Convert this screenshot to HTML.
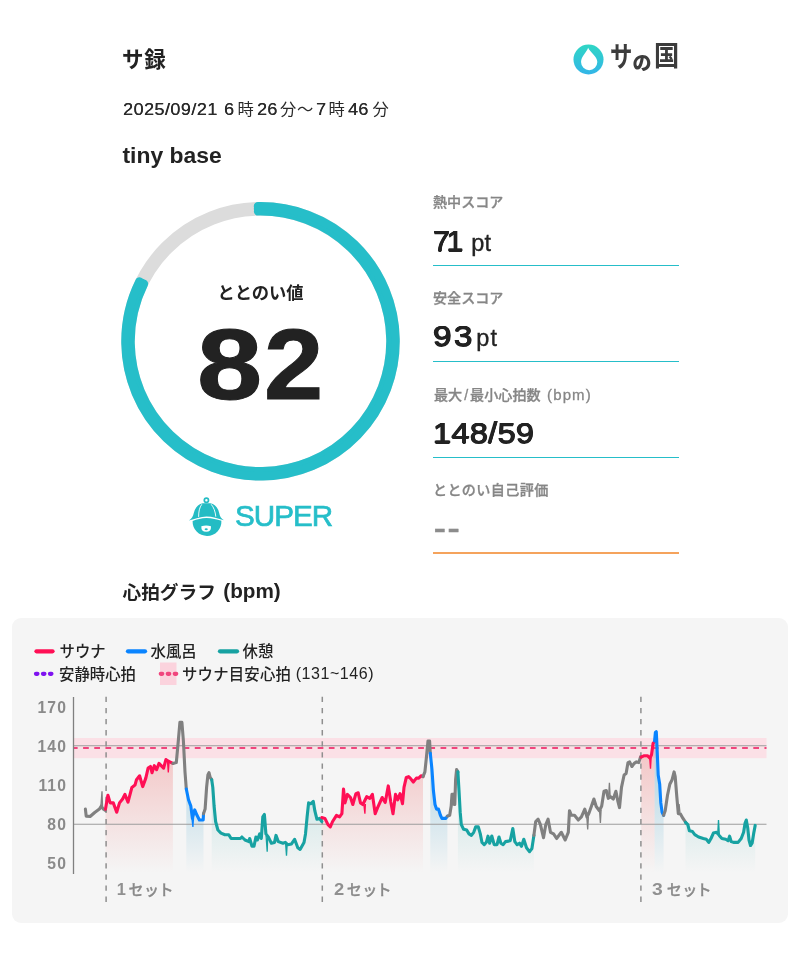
<!DOCTYPE html>
<html lang="ja">
<head>
<meta charset="utf-8">
<title>サ録</title>
<style>
html,body{margin:0;padding:0;background:#fff;}
body{width:800px;height:969px;position:relative;overflow:hidden;font-family:"Liberation Sans","Noto Sans CJK JP",sans-serif;color:#222;}
.abs{position:absolute;white-space:nowrap;line-height:1;}
.h1{left:122px;top:50px;font-size:21.5px;font-weight:700;letter-spacing:.8px;}
.date{top:100.5px;font-size:16.3px;color:#2a2a2a;letter-spacing:.9px;}
.date span{display:inline-block;white-space:pre;}
.date .d{letter-spacing:.15px;transform:scaleX(1.1);transform-origin:0 0;text-shadow:.3px 0 0 #2a2a2a;}
.date .l{letter-spacing:.45px;}
.place{left:122.5px;top:144px;font-size:22.9px;font-weight:700;}
.logo{left:573.3px;top:44.4px;}
.logotxt{font-weight:900;color:#3c3c3c;font-family:"Liberation Sans","Noto Sans CJK JP",sans-serif;}
.logotxt span{display:inline-block;vertical-align:top;position:relative;transform-origin:0 0;line-height:1;}
.ring{left:110px;top:190px;}
.tval{left:160.5px;width:200px;text-align:center;top:284.5px;font-size:17.3px;font-weight:700;}
.big{font-size:100.5px;font-weight:700;color:#222;-webkit-text-stroke:1px #222;}
.big span{display:inline-block;transform-origin:0 0;}
.super{left:235.2px;top:500px;font-size:30.4px;color:#26bec9;-webkit-text-stroke:.7px #26bec9;letter-spacing:-1px;transform:scaleX(.975);transform-origin:0 0;}
.hat{left:186px;top:494px;}
.lbl{left:433px;font-size:14.1px;color:#868686;font-weight:500;-webkit-text-stroke:.3px #868686;font-family:"Liberation Sans","Noto Sans CJK JP",sans-serif;}
.val{left:433px;font-size:30.4px;color:#222;font-weight:400;text-shadow:.6px 0 #222,-.6px 0 #222,0 .5px #222,0 -.5px #222;}
.val small{display:inline-block;position:relative;font-weight:400;font-size:23.5px;text-shadow:none;-webkit-text-stroke:.35px #222;top:0px;letter-spacing:.3px}
.ul{position:absolute;left:433px;width:246px;height:1.6px;background:#26bec9;}
.gt{font-weight:700;}
.gt span,.lg span{display:inline-block;vertical-align:top;position:relative;line-height:1;white-space:pre;}
.card{position:absolute;left:12px;top:618px;width:776px;height:305px;border-radius:9px;background:#f5f5f5;}
.chart{position:absolute;left:0;top:0;}
.lg{font-size:15.4px;color:#222;font-weight:500;}
.yl{left:20px;width:47px;text-align:right;font-size:15.7px;color:#8a8a8a;font-weight:700;letter-spacing:1.1px;}
.sl{font-size:15px;color:#8a8a8a;font-weight:500;letter-spacing:.5px;-webkit-text-stroke:.3px #8a8a8a;}
.sl b{display:inline-block;font-weight:700;font-size:16.4px;transform-origin:0 0;-webkit-text-stroke:0;color:#909090;letter-spacing:0;}
.sl i{font-style:normal;margin-left:-1.1px;}
</style>
</head>
<body>
<div class="abs h1">サ録</div>
<div class="abs date" style="left:122.5px"><span class="d l" style="width:101.5px">2025/09/21 </span><span class="d" style="width:13.5px">6</span><span class="" style="width:19.5px">時</span><span class="d" style="width:23.0px">26</span><span class="" style="width:17.0px">分</span><span class="" style="width:19.0px">〜</span><span class="d" style="width:12.5px">7</span><span class="" style="width:19.1px">時</span><span class="d" style="width:24.9px">46</span><span class="" style="">分</span></div>
<div class="abs place">tiny base</div>

<svg class="abs logo" width="31" height="31" viewBox="0 0 32 32">
<defs><linearGradient id="lgd" x1="0" y1="0" x2="0" y2="1"><stop offset="0" stop-color="#2fd6c4"/><stop offset="1" stop-color="#33b5e8"/></linearGradient></defs>
<circle cx="16" cy="16" r="15.5" fill="url(#lgd)"/>
<path d="M15.6 3.9 C17.6 8.6 25.1 12.6 25.1 18.6 A8.4 8.4 0 0 1 8.3 18.6 C8.3 12.6 14.2 8.6 15.6 3.9Z" fill="#fff"/>
</svg>
<div class="abs logotxt" style="left:610px;top:43px;font-size:28px"><span style="width:22.5px;top:1px;font-weight:700;transform:scaleX(.8)">サ</span><span style="width:21px;top:10.5px;font-size:19px">の</span><span style="font-weight:700;transform:scaleX(.9)">国</span></div>

<svg class="abs ring" width="300" height="300" viewBox="0 0 300 300">
<circle cx="150.5" cy="151.3" r="132.5" fill="none" stroke="#dcdcdc" stroke-width="13.5"/>
<g fill="none" stroke="#26bec9" stroke-width="8.5" stroke-linecap="round" stroke-dasharray="297.3 360" transform="rotate(-91.05 150.5 151.3)"><circle cx="150.5" cy="151.3" r="130" pathLength="360"/><circle cx="150.5" cy="151.3" r="132.5" pathLength="360"/><circle cx="150.5" cy="151.3" r="135" pathLength="360"/></g>
</svg>
<div class="abs tval">ととのい値</div>
<div class="abs big" style="left:197.3px;top:314px"><span style="width:66.7px;transform:scaleX(1.167)">8</span><span style="transform:scaleX(1.06)">2</span></div>

<svg class="abs hat" width="42" height="46" viewBox="0 0 42 46">
<circle cx="20.4" cy="6.3" r="2.1" fill="none" stroke="#24bcc4" stroke-width="1.7"/>
<path d="M2.9 26.6 C9 25 14.5 22.6 20.5 22.6 C26.5 22.6 32 24.8 37.9 26.3 C35 24.6 33.8 22 33.2 19 C32 13.5 28.8 10 24.3 9.2 L16.7 9.2 C12.2 10 9.2 13.5 7.8 19 C7.2 22 5.8 24.8 2.9 26.6Z" fill="#24bcc4"/>
<path d="M15.8 10.3 C13.5 13.5 12.6 17.5 12.6 22.9 M25.2 10.3 C27.8 13.5 29.3 17.5 29.8 22.7" fill="none" stroke="#fff" stroke-width="1" opacity=".9"/>
<path d="M6.62 26.9 C11 25.6 15.5 24.1 20.5 24.1 C26 24.1 31 25.6 35.38 26.7 A14.4 14.4 0 1 1 6.62 26.9Z" fill="#24bcc4"/>
<path d="M15.3 32.2 Q20.2 30.6 25 32.2 Q25.3 37.8 20.2 37.8 Q15 37.8 15.3 32.2Z" fill="#fff"/>
<ellipse cx="20.2" cy="35.3" rx="1.6" ry="1" fill="#24bcc4"/>
</svg>
<div class="abs super">SUPER</div>

<div class="abs lbl" style="top:195px">熱中スコア</div>
<div class="abs val" style="top:225px">7<span style="margin-left:-3.4px">1</span> <small style="margin-left:-.65px">pt</small></div>
<div class="ul" style="top:264.5px"></div>
<div class="abs lbl" style="top:291px">安全スコア</div>
<div class="abs val" style="top:320.3px;letter-spacing:2px"><span style="display:inline-block;transform:scaleX(1.1);transform-origin:0 0">93</span> <small style="margin-left:-5.05px;letter-spacing:1.1px">pt</small></div>
<div class="ul" style="top:360.8px"></div>
<div class="abs lbl" style="top:387px;left:434px">最大<span style="margin:0 2px">/</span>最小心拍数 <span style="margin-left:2.6px;font-size:15px;letter-spacing:1.1px">(bpm)</span></div>
<div class="abs val" style="top:417.3px;left:432.5px;letter-spacing:.3px;transform:scaleX(1.07);transform-origin:0 0">148/59</div>
<div class="ul" style="top:456.5px"></div>
<div class="abs lbl" style="top:483px;letter-spacing:.4px">ととのい自己評価</div>
<div class="abs val" style="top:508.5px;left:433.5px;color:#8c8c8c;text-shadow:none;-webkit-text-stroke:.4px #8c8c8c;font-size:38px;letter-spacing:1.2px">--</div>
<div class="ul" style="top:551.8px;height:2px;background:#f5a35c"></div>

<div class="abs gt" style="left:122.5px;top:580.7px;font-size:20.7px"><span style="width:100.8px;top:3px;font-size:18.7px">心拍グラフ </span><span>(bpm)</span></div>
<div class="card"></div>
<svg class="chart" width="800" height="969" viewBox="0 0 800 969">
<defs>
<linearGradient id="fr" gradientUnits="userSpaceOnUse" x1="0" y1="700" x2="0" y2="873"><stop offset="0" stop-color="#ee3434" stop-opacity=".35"/><stop offset="1" stop-color="#ee3838" stop-opacity="0"/></linearGradient>
<linearGradient id="fb" gradientUnits="userSpaceOnUse" x1="0" y1="700" x2="0" y2="873"><stop offset="0" stop-color="#2a98c4" stop-opacity=".50"/><stop offset="1" stop-color="#2a98c4" stop-opacity="0"/></linearGradient>
<linearGradient id="ft" gradientUnits="userSpaceOnUse" x1="0" y1="700" x2="0" y2="873"><stop offset="0" stop-color="#17a2a2" stop-opacity=".36"/><stop offset="1" stop-color="#17a2a2" stop-opacity="0"/></linearGradient>
</defs>
<rect x="73.5" y="738" width="693" height="20.2" fill="#fbe0e6"/>
<g><polygon points="105.5,809.1 107.9,795.2 110.2,802.9 113.3,802.9 116.7,812.2 119.5,802.9 122.6,799.0 124.9,794.4 128.0,802.1 131.9,787.4 135.0,785.1 136.5,779.7 139.6,775.8 142.7,786.6 145.8,778.1 148.1,768.1 150.5,766.5 152.0,772.7 154.3,765.7 156.6,769.6 159.0,763.4 163.6,768.1 165.9,759.6 168.0,761.0 169.8,761.9 172.9,763.4 172.9,873.0 105.5,873.0" fill="url(#fr)"/><polygon points="186.3,789.0 188.5,799.8 190.8,806.0 192.4,818.4 194.7,809.9 197.0,815.3 199.4,820.0 203.2,820.0 203.5,813.7 203.5,873.0 186.3,873.0" fill="url(#fb)"/><polygon points="211.7,779.7 212.8,787.4 214.1,806.0 215.6,821.5 217.9,830.0 221.0,833.1 224.9,834.7 228.8,834.7 231.1,838.5 240.4,838.5 241.9,837.0 245.0,840.0 248.9,841.6 249.7,838.5 252.0,846.3 254.0,846.3 255.9,837.0 257.4,840.0 259.7,833.9 261.3,838.5 262.8,816.8 264.4,814.5 265.9,833.9 268.3,837.0 271.4,843.2 274.5,842.4 276.0,835.4 278.3,841.6 283.0,843.2 285.3,842.4 287.6,844.7 291.5,843.9 294.6,839.3 297.8,847.8 300.1,849.4 304.0,842.4 305.5,833.9 307.1,816.8 308.6,802.9 311.0,803.7 313.3,801.4 314.8,810.7 316.9,819.2 319.5,818.4 321.8,821.5 321.8,873.0 211.7,873.0" fill="url(#ft)"/><polygon points="321.8,817.6 324.9,818.4 328.0,824.6 330.3,826.9 332.6,821.5 336.5,815.3 339.6,816.8 341.9,813.7 343.5,789.0 345.0,802.9 347.4,794.4 350.5,797.5 352.8,804.5 355.9,793.6 358.2,792.8 360.5,802.9 362.8,804.5 366.7,796.7 369.8,798.3 372.4,794.4 375.2,813.7 377.6,807.6 382.2,797.5 385.2,802.5 388.3,785.9 390.8,802.0 393.0,813.7 395.5,794.4 397.8,799.8 400.1,793.6 402.5,803.7 404.0,787.4 406.3,777.4 408.6,776.6 410.2,778.1 413.3,782.0 416.4,778.1 418.7,778.1 421.0,775.8 423.0,776.6 423.0,873.0 321.8,873.0" fill="url(#fr)"/><polygon points="430.3,753.4 431.9,768.8 433.4,790.5 435.0,804.5 436.5,809.1 438.5,809.1 440.4,815.3 441.9,818.4 445.8,818.4 447.4,816.1 447.4,873.0 430.3,873.0" fill="url(#fb)"/><polygon points="457.9,771.9 459.0,790.5 460.2,812.2 461.3,824.6 463.6,829.2 466.7,830.0 469.0,833.9 471.4,835.4 473.7,832.3 475.7,826.9 478.3,826.9 480.3,833.9 482.0,842.5 484.2,844.7 486.5,842.0 488.0,836.2 489.6,843.2 491.8,836.0 494.2,844.7 497.0,844.7 499.0,837.0 500.9,843.2 503.2,844.7 505.5,841.6 510.2,840.8 512.8,828.5 514.8,841.6 517.2,844.7 519.5,843.2 521.5,846.3 523.8,839.3 526.5,847.8 529.6,851.7 531.9,848.6 533.9,835.4 533.9,873.0 457.9,873.0" fill="url(#ft)"/><polygon points="641.2,757.2 644.3,755.7 647.4,755.7 649.7,758.0 651.5,754.9 653.1,743.3 654.6,741.7 654.6,873.0 641.2,873.0" fill="url(#fr)"/><polygon points="654.6,741.0 655.4,732.5 656.3,731.7 657.1,748.7 658.2,775.0 659.7,784.3 660.8,802.9 662.1,812.2 663.6,815.3 663.6,873.0 654.6,873.0" fill="url(#fb)"/><polygon points="685.5,822.3 687.8,824.6 689.4,830.8 692.5,831.6 694.8,834.7 698.6,837.0 703.3,838.5 706.4,839.3 708.7,842.4 711.0,838.5 713.4,833.1 716.5,832.3 718.0,833.9 719.2,835.4 721.9,838.5 725.7,839.3 728.1,840.8 729.6,836.2 731.2,841.6 733.5,842.4 738.1,842.4 741.2,838.5 743.6,832.3 745.1,823.0 746.3,820.0 747.7,827.7 749.0,840.0 750.5,845.5 752.1,843.2 753.6,833.9 755.2,825.4 755.2,873.0 685.5,873.0" fill="url(#ft)"/></g>
<line x1="73.5" y1="745.8" x2="766.5" y2="745.8" stroke="#9c9c9c" stroke-width="1.1"/>
<line x1="73.5" y1="824.3" x2="766.5" y2="824.3" stroke="#9c9c9c" stroke-width="1.1"/>
<line x1="73.5" y1="748" x2="766.5" y2="748" stroke="#f0457d" stroke-width="2.1" stroke-dasharray="5.7 5.47" stroke-dashoffset="1.57"/>
<line x1="73.5" y1="697" x2="73.5" y2="874" stroke="#808080" stroke-width="1.3"/>
<g stroke="#8f8f8f" stroke-width="1.5" stroke-dasharray="5.3 5.8">
<line x1="106.1" y1="696.8" x2="106.1" y2="902"/><line x1="322.3" y1="696.8" x2="322.3" y2="902"/><line x1="640.9" y1="696.8" x2="640.9" y2="902"/>
</g>
<g fill="none" stroke-width="3.1" stroke-linejoin="round" stroke-linecap="round"><polyline points="85.4,809.1 86.2,816.1 90.1,816.5 94.7,812.5 99.4,809.1 101.3,806.0 103.2,809.0 105.5,810.6" stroke="#808080"/><polyline points="105.5,809.1 107.9,795.2 110.2,802.9 113.3,802.9 116.7,812.2 119.5,802.9 122.6,799.0 124.9,794.4 128.0,802.1 131.9,787.4 135.0,785.1 136.5,779.7 139.6,775.8 142.7,786.6 145.8,778.1 148.1,768.1 150.5,766.5 152.0,772.7 154.3,765.7 156.6,769.6 159.0,763.4 163.6,768.1 165.9,759.6 168.0,761.0 169.8,761.9 172.9,763.4" stroke="#ff0f55"/><polyline points="172.9,763.4 176.3,762.6 178.3,741.0 179.9,722.4 181.9,722.4 183.4,741.0 185.0,772.0 186.3,789.0" stroke="#808080"/><polyline points="186.3,789.0 188.5,799.8 190.8,806.0 192.4,818.4 194.7,809.9 197.0,815.3 199.4,820.0 203.2,820.0 203.5,813.7" stroke="#0a84ff"/><polyline points="203.5,813.7 205.1,809.1 206.6,787.4 207.9,775.0 209.0,772.7 210.2,777.4 211.7,779.7" stroke="#808080"/><polyline points="211.7,779.7 212.8,787.4 214.1,806.0 215.6,821.5 217.9,830.0 221.0,833.1 224.9,834.7 228.8,834.7 231.1,838.5 240.4,838.5 241.9,837.0 245.0,840.0 248.9,841.6 249.7,838.5 252.0,846.3 254.0,846.3 255.9,837.0 257.4,840.0 259.7,833.9 261.3,838.5 262.8,816.8 264.4,814.5 265.9,833.9 268.3,837.0 271.4,843.2 274.5,842.4 276.0,835.4 278.3,841.6 283.0,843.2 285.3,842.4 287.6,844.7 291.5,843.9 294.6,839.3 297.8,847.8 300.1,849.4 304.0,842.4 305.5,833.9 307.1,816.8 308.6,802.9 311.0,803.7 313.3,801.4 314.8,810.7 316.9,819.2 319.5,818.4 321.8,821.5" stroke="#17a2a2"/><polyline points="321.8,817.6 324.9,818.4 328.0,824.6 330.3,826.9 332.6,821.5 336.5,815.3 339.6,816.8 341.9,813.7 343.5,789.0 345.0,802.9 347.4,794.4 350.5,797.5 352.8,804.5 355.9,793.6 358.2,792.8 360.5,802.9 362.8,804.5 366.7,796.7 369.8,798.3 372.4,794.4 375.2,813.7 377.6,807.6 382.2,797.5 385.2,802.5 388.3,785.9 390.8,802.0 393.0,813.7 395.5,794.4 397.8,799.8 400.1,793.6 402.5,803.7 404.0,787.4 406.3,777.4 408.6,776.6 410.2,778.1 413.3,782.0 416.4,778.1 418.7,778.1 421.0,775.8 423.0,776.6" stroke="#ff0f55"/><polyline points="423.0,776.6 424.9,771.9 426.5,756.5 428.0,741.0 429.6,741.0 430.3,753.4" stroke="#808080"/><polyline points="430.3,753.4 431.9,768.8 433.4,790.5 435.0,804.5 436.5,809.1 438.5,809.1 440.4,815.3 441.9,818.4 445.8,818.4 447.4,816.1" stroke="#0a84ff"/><polyline points="447.4,816.1 449.7,815.3 451.2,806.0 452.0,794.4 453.6,794.4 454.0,804.5 454.8,804.5 455.6,779.7 456.6,769.6 457.9,771.9" stroke="#808080"/><polyline points="457.9,771.9 459.0,790.5 460.2,812.2 461.3,824.6 463.6,829.2 466.7,830.0 469.0,833.9 471.4,835.4 473.7,832.3 475.7,826.9 478.3,826.9 480.3,833.9 482.0,842.5 484.2,844.7 486.5,842.0 488.0,836.2 489.6,843.2 491.8,836.0 494.2,844.7 497.0,844.7 499.0,837.0 500.9,843.2 503.2,844.7 505.5,841.6 510.2,840.8 512.8,828.5 514.8,841.6 517.2,844.7 519.5,843.2 521.5,846.3 523.8,839.3 526.5,847.8 529.6,851.7 531.9,848.6 533.9,835.4" stroke="#17a2a2"/><polyline points="533.9,835.4 535.7,821.5 538.1,819.2 540.4,824.6 543.5,837.7 545.8,824.6 548.1,819.2 550.5,832.3 553.6,833.9 556.6,838.5 561.3,832.3 565.2,840.0 568.3,832.3 569.5,810.7 571.4,815.3 574.5,815.3 578.3,820.0 581.4,816.8 584.8,809.1 587.0,817.0 589.0,813.0 591.5,806.0 593.9,799.0 596.2,806.5 599.4,810.7 601.7,806.0 604.0,791.3 606.3,790.5 608.3,798.3 610.5,796.7 613.3,799.0 615.9,791.3 617.9,801.4 619.5,807.6 621.5,787.4 624.1,775.0 626.1,773.5 628.0,762.6 629.6,761.9 631.9,766.5 634.2,763.4 636.5,761.9 638.8,762.6 640.7,756.5" stroke="#808080"/><polyline points="641.2,757.2 644.3,755.7 647.4,755.7 649.7,758.0 651.5,754.9 653.1,743.3 654.6,741.7" stroke="#ff0f55"/><polyline points="654.6,741.0 655.4,732.5 656.3,731.7 657.1,748.7 658.2,775.0 659.7,784.3 660.8,802.9 662.1,812.2 663.6,815.3" stroke="#0a84ff"/><polyline points="663.6,815.3 665.2,810.7 667.5,795.2 669.8,784.3 672.1,779.7 674.1,771.9 675.2,776.6 676.8,796.7 678.3,813.7 680.3,813.7 683.0,818.4 686.1,823.0" stroke="#808080"/><polyline points="685.5,822.3 687.8,824.6 689.4,830.8 692.5,831.6 694.8,834.7 698.6,837.0 703.3,838.5 706.4,839.3 708.7,842.4 711.0,838.5 713.4,833.1 716.5,832.3 718.0,833.9 719.2,835.4 721.9,838.5 725.7,839.3 728.1,840.8 729.6,836.2 731.2,841.6 733.5,842.4 738.1,842.4 741.2,838.5 743.6,832.3 745.1,823.0 746.3,820.0 747.7,827.7 749.0,840.0 750.5,845.5 752.1,843.2 753.6,833.9 755.2,825.4" stroke="#17a2a2"/></g>
<g fill="none" stroke-width="1.3" stroke-linejoin="miter" stroke-linecap="butt"><polyline points="100.9,806.0 102.0,791.3 102.5,806.0" stroke="#808080"/><polyline points="167.5,761.5 168.3,772.5 169.1,761.5" stroke="#ff0f55"/><polyline points="191.9,818.0 192.9,827.0 193.5,818.0" stroke="#0a84ff"/><polyline points="266.1,836.0 267.2,851.7 267.7,836.0" stroke="#17a2a2"/><polyline points="285.6,843.5 286.5,855.6 287.2,843.5" stroke="#17a2a2"/><polyline points="363.8,804.0 364.9,813.7 365.4,804.0" stroke="#ff0f55"/><polyline points="586.8,817.0 587.7,829.5 588.4,817.0" stroke="#808080"/><polyline points="599.5,810.0 600.4,823.0 601.1,810.0" stroke="#808080"/><polyline points="608.6,797.0 609.4,782.8 610.2,797.0" stroke="#808080"/><polyline points="649.6,757.0 650.5,768.8 651.2,757.0" stroke="#ff0f55"/><polyline points="678.3,812.0 679.1,804.0 679.9,812.0" stroke="#808080"/><polyline points="717.7,834.0 718.5,820.0 719.3,834.0" stroke="#17a2a2"/></g>
</svg>
<svg class="abs" style="left:0;top:630px" width="400" height="60" viewBox="0 630 400 60">
<g stroke-width="4.3" stroke-linecap="round">
<line x1="36.5" y1="651.3" x2="52.5" y2="651.3" stroke="#ff0f55"/>
<line x1="128" y1="651.3" x2="145" y2="651.3" stroke="#0a84ff"/>
<line x1="220" y1="651.3" x2="237" y2="651.3" stroke="#17a2a2"/>
</g>
<rect x="160" y="662.5" width="16.5" height="22.5" fill="#fbd3dd"/>
<g stroke-width="4.3" stroke-linecap="round" stroke-dasharray="1.4 5.6">
<line x1="36" y1="673.8" x2="54" y2="673.8" stroke="#7f12f0"/>
<line x1="160.8" y1="673.8" x2="178" y2="673.8" stroke="#f0457d"/>
</g>
</svg>
<div class="abs lg" style="left:59.5px;top:643.5px">サウナ</div>
<div class="abs lg" style="left:150.5px;top:643.5px">水風呂</div>
<div class="abs lg" style="left:242.5px;top:643.5px">休憩</div>
<div class="abs lg" style="left:59px;top:666.5px">安静時心拍</div>
<div class="abs lg" style="left:182px;top:666px;font-size:16px"><span style="width:113.7px;top:.5px;font-size:15.4px;letter-spacing:.2px">サウナ目安心拍 </span><span style="letter-spacing:.55px">(131~146)</span></div>

<div class="abs yl" style="top:700px">170</div>
<div class="abs yl" style="top:739px">140</div>
<div class="abs yl" style="top:778px">110</div>
<div class="abs yl" style="top:816.5px">80</div>
<div class="abs yl" style="top:856px">50</div>
<div class="abs sl" style="left:116.8px;top:881px"><b style="width:11.8px">1</b>セッ<i>ト</i></div>
<div class="abs sl" style="left:333.7px;top:881px"><b style="width:13px;transform:scaleX(1.12)">2</b>セッ<i>ト</i></div>
<div class="abs sl" style="left:652.2px;top:881px"><b style="width:14.5px;transform:scaleX(1.18)">3</b>セッ<i>ト</i></div>
</body>
</html>
